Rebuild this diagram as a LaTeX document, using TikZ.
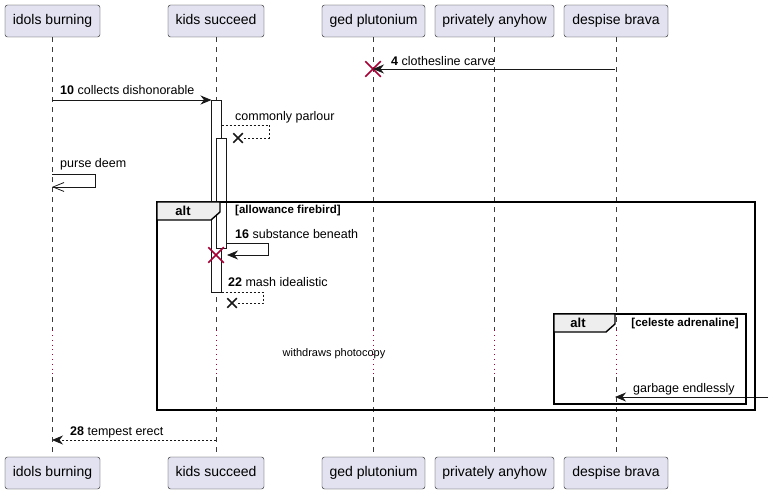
\documentclass[tikz,border=0pt]{standalone}
\usepackage{fontspec}
\setmainfont{Liberation Sans}
\usetikzlibrary{arrows.meta,positioning,calc,shapes.misc}
\definecolor{partfill}{RGB}{226,226,240}
\definecolor{partdraw}{RGB}{24,24,24}
\definecolor{xred}{RGB}{168,0,54}
\definecolor{tabfill}{RGB}{238,238,238}
\tikzset{
    part/.style  = {draw=partdraw, fill=partfill, rounded corners=2.5pt,
            minimum height=32pt, inner sep=0pt, text height=10pt, text depth=3pt,
            font=\fontsize{14}{16}\selectfont},
    life/.style  = {draw=partdraw!85, dash pattern=on 5pt off 5pt, line width=0.5pt},
    delay/.style = {draw=xred, dash pattern=on 0.8pt off 4pt, line width=0.8pt},
    msg/.style   = {-{Stealth[length=11pt,width=9pt,inset=3.5pt]}, line width=0.8pt, draw=partdraw},
    ret/.style   = {line width=0.8pt, draw=partdraw, dash pattern=on 2pt off 2pt},
    retmsg/.style = {msg, dash pattern=on 2pt off 2pt},
    openmsg/.style = {-{Straight Barb[length=11pt,width=9pt]}, line width=0.8pt, draw=partdraw},
    act/.style   = {draw=partdraw, fill=white, line width=0.8pt},
    lbl/.style   = {anchor=base west, inner sep=0pt, font=\fontsize{12.5}{14}\selectfont},
    kill/.style  = {cross out, draw=xred, line width=1.5pt, minimum size=14pt, inner sep=0pt},
    stopx/.style = {cross out, draw=partdraw, line width=1.5pt, minimum size=8pt, inner sep=0pt},
    frame/.style = {draw=black, line width=1.4pt},
    tab/.style   = {draw=black, line width=1.4pt, fill=tabfill},
    cond/.style  = {inner sep=0pt, font=\fontsize{11.5}{13}\bfseries\selectfont},
    alttag/.style = {inner sep=0pt, font=\fontsize{13}{15}\bfseries\selectfont},
}

\begin{document}
\begin{tikzpicture}[x=1pt,y=-1pt]
    \useasboundingbox (0,0) rectangle (770,494);
    % Nodes
    \node[part, minimum width=95pt]  (idolsT) at (52.5,21)  {idols burning};
    \node[part, minimum width=96pt]  (kidsT)  at (216,21)   {kids succeed};
    \node[part, minimum width=103pt] (gedT)   at (373.5,21) {ged plutonium};
    \node[part, minimum width=119pt] (privT)  at (494.5,21) {privately anyhow};
    \node[part, minimum width=104pt] (despT)  at (616,21)   {despise brava};
    \node[part, minimum width=95pt]  (idolsB) at (52.5,473) {idols burning};
    \node[part, minimum width=96pt]  (kidsB)  at (216,473)  {kids succeed};
    \node[part, minimum width=103pt] (gedB)   at (373.5,473) {ged plutonium};
    \node[part, minimum width=119pt] (privB)  at (494.5,473) {privately anyhow};
    \node[part, minimum width=104pt] (despB)  at (616,473)  {despise brava};

    % lifelines with the delay
    \foreach \n in {idols,kids,ged,priv,desp}{
        \path (\n T.south) ++(0,293) coordinate (\n D1);
        \path (\n T.south) ++(0,340) coordinate (\n D2);
        \draw[life] (\n T.south) -- (\n D1);
        \draw[delay] (\n D1) -- (\n D2);
        \draw[life] (\n D2) -- (\n B.north);
    }
    \node[font=\fontsize{11}{13}\selectfont, inner sep=0pt] (wait) at (334,354) {withdraws photocopy};

    % activations
    \draw[act] (211.5,100) rectangle (221.5,292);
    \draw[act] (216.5,138) rectangle (226,248);

    % Arrows
    \node[kill] (k4) at (373,69) {};
    \coordinate (d4) at (615,69);
    \draw[msg] (d4) -- (k4.center);
    \node[lbl] at (391,66) {\textbf{4} clothesline carve};

    \coordinate (i10) at (52,100);
    \coordinate (k10) at (211.5,100);
    \draw[msg] (i10) -- (k10);
    \node[lbl] at (60,95) {\textbf{10} collects dishonorable};

    \coordinate (k12) at (221.5,125);
    \node[stopx] (x12) at (238,138) {};
    \draw[ret] (k12) -- ++(47.5,0) |- (x12.east);
    \node[lbl] at (235,121) {commonly parlour};

    \coordinate (i14) at (52,174);
    \coordinate (i14e) at (52,187);
    \draw[openmsg] (i14) -- ++(43,0) |- (i14e);
    \node[lbl] at (60,168) {purse deem};

    \coordinate (k16) at (226,243);
    \coordinate (k16e) at (227,255);
    \draw[msg] (k16) -- ++(42,0) |- (k16e);
    \node[kill] (k16x) at (216,255) {};
    \node[lbl] at (235,238) {\textbf{16} substance beneath};

    \coordinate (k22) at (221.5,292);
    \node[stopx] (x22) at (232,303) {};
    \draw[ret] (k22) -- ++(41.5,0) |- (x22.east);
    \node[lbl] at (228,286) {\textbf{22} mash idealistic};

    \coordinate (g26) at (768,397);
    \coordinate (d26) at (615,397);
    \draw[msg] (g26) -- (d26);
    \node[lbl] at (633,392) {garbage endlessly};

    \coordinate (k28) at (216,440);
    \coordinate (i28) at (52,440);
    \draw[retmsg] (k28) -- (i28);
    \node[lbl] at (70,435) {\textbf{28} tempest erect};

    % alt frames
    \draw[frame] (157,202) rectangle (755,410);
    \draw[tab] (157,202) -- (220,202) -- (220,212) -- (211,220) -- (157,220) -- cycle;
    \node[alttag] (alt1) at (183,211) {alt};
    \node[cond, anchor=west] (c1) at (235,211) {[allowance firebird]};

    \draw[frame] (554,314) rectangle (746,404);
    \draw[tab] (554,314) -- (615,314) -- (615,324) -- (606,332) -- (554,332) -- cycle;
    \node[alttag] (alt2) at (578,323) {alt};
    \node[cond, anchor=east] (c2) at (739,324) {[celeste adrenaline]};
\end{tikzpicture}
\end{document}
